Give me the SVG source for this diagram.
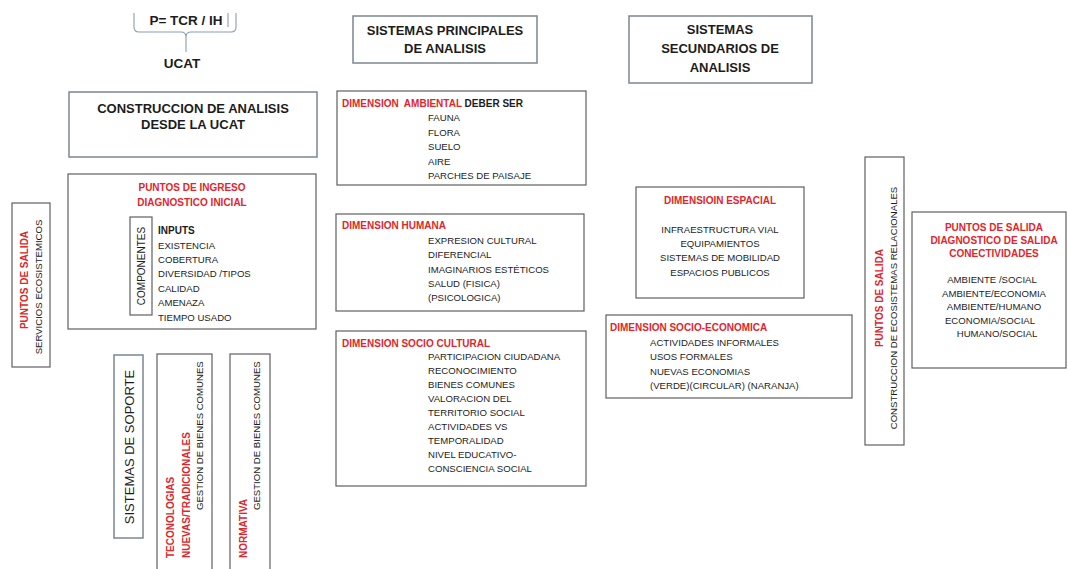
<svg xmlns="http://www.w3.org/2000/svg" width="1067" height="569" viewBox="0 0 1067 569">
<style>
.box{fill:#fff;stroke:#5f5f5f;stroke-width:1.2}
.tbox{fill:#fff;stroke:#7b8793;stroke-width:1.5}
text{font-family:"Liberation Sans",Arial,sans-serif;fill:#1c1c1c}
.big{font-size:13px;font-weight:bold}
.hd{font-size:10px;font-weight:bold}
.red{fill:#e0262b}
.it{font-size:9.6px}
.mid{text-anchor:middle}
</style>
<rect width="1067" height="569" fill="#fff"/>
<g id="formula">
<path d="M134,13 L134,27 Q134,32 139,32 L181,32 Q186,32 186,37 L186,52 M186,37 Q186,32 191,32 L231,32 Q236,32 236,27 L236,13" fill="none" stroke="#8a9db1" stroke-width="1.1"/>
<line x1="228" y1="13" x2="228" y2="27" stroke="#8a9db1" stroke-width="1.1"/>
<text x="186" y="25" class="mid" style="font-size:13.5px;font-weight:bold">P= TCR / IH</text>
<text x="182" y="68" class="mid" style="font-size:13.5px;font-weight:bold">UCAT</text>
</g>
<g id="construccion">
<rect class="tbox" x="69" y="92" width="248" height="65"/>
<text x="193" y="113" class="big mid">CONSTRUCCION DE ANALISIS</text>
<text x="193" y="129" class="big mid">DESDE LA UCAT</text>
</g>
<g id="principales">
<rect class="tbox" x="353" y="16" width="184" height="47"/>
<text x="445" y="35" class="big mid">SISTEMAS PRINCIPALES</text>
<text x="445" y="53" class="big mid">DE ANALISIS</text>
</g>
<g id="secundarios">
<rect class="tbox" x="629" y="16" width="183" height="67"/>
<text x="720" y="34" class="big mid">SISTEMAS</text>
<text x="720" y="53" class="big mid">SECUNDARIOS DE</text>
<text x="720" y="72" class="big mid">ANALISIS</text>
</g>
<g id="ambiental">
<rect class="box" x="337" y="91" width="249" height="94"/>
<text x="342" y="107" class="hd" xml:space="preserve"><tspan class="red">DIMENSION  AMBIENTAL</tspan> DEBER SER</text>
<text class="it" x="428" y="121">FAUNA</text>
<text class="it" x="428" y="135.5">FLORA</text>
<text class="it" x="428" y="150">SUELO</text>
<text class="it" x="428" y="164.5">AIRE</text>
<text class="it" x="428" y="179">PARCHES DE PAISAJE</text>
</g>
<g id="humana">
<rect class="box" x="336" y="214" width="248" height="97"/>
<text x="342" y="229" class="hd red">DIMENSION HUMANA</text>
<text class="it" x="428" y="244">EXPRESION CULTURAL</text>
<text class="it" x="428" y="258">DIFERENCIAL</text>
<text class="it" x="428" y="272.5">IMAGINARIOS ESTÉTICOS</text>
<text class="it" x="428" y="287">SALUD (FISICA)</text>
<text class="it" x="428" y="301">(PSICOLOGICA)</text>
</g>
<g id="sociocultural">
<rect class="box" x="336" y="331" width="250" height="155"/>
<text x="342" y="347" class="hd red">DIMENSION SOCIO CULTURAL</text>
<text class="it" x="428" y="360">PARTICIPACION CIUDADANA</text>
<text class="it" x="428" y="374">RECONOCIMIENTO</text>
<text class="it" x="428" y="388">BIENES COMUNES</text>
<text class="it" x="428" y="402">VALORACION DEL</text>
<text class="it" x="428" y="416">TERRITORIO SOCIAL</text>
<text class="it" x="428" y="430">ACTIVIDADES VS</text>
<text class="it" x="428" y="444">TEMPORALIDAD</text>
<text class="it" x="428" y="458">NIVEL EDUCATIVO-</text>
<text class="it" x="428" y="472">CONSCIENCIA SOCIAL</text>
</g>
<g id="espacial">
<rect class="box" x="636" y="187" width="168" height="111"/>
<text x="720" y="204" class="hd red mid">DIMENSIOIN ESPACIAL</text>
<text class="it mid" x="720" y="233">INFRAESTRUCTURA VIAL</text>
<text class="it mid" x="720" y="247">EQUIPAMIENTOS</text>
<text class="it mid" x="720" y="261">SISTEMAS DE MOBILIDAD</text>
<text class="it mid" x="720" y="276">ESPACIOS PUBLICOS</text>
</g>
<g id="socioeconomica">
<rect class="box" x="606" y="315" width="246" height="83"/>
<text x="610" y="331" class="hd red">DIMENSION SOCIO-ECONOMICA</text>
<text class="it" x="650" y="346">ACTIVIDADES INFORMALES</text>
<text class="it" x="650" y="360">USOS FORMALES</text>
<text class="it" x="650" y="375">NUEVAS ECONOMIAS</text>
<text class="it" x="650" y="389">(VERDE)(CIRCULAR) (NARANJA)</text>
</g>
<g id="salida-relacionales">
<rect class="box" x="865" y="157" width="39" height="288"/>
<text class="hd red mid" transform="translate(883,298) rotate(-90)">PUNTOS DE SALIDA</text>
<text class="it mid" transform="translate(897,308) rotate(-90)">CONSTRUCCION DE ECOSISTEMAS RELACIONALES</text>
</g>
<g id="salida-conectividades">
<rect class="box" x="912" y="212" width="154" height="156"/>
<text x="994" y="231" class="hd red mid">PUNTOS DE SALIDA</text>
<text x="994" y="244" class="hd red mid">DIAGNOSTICO DE SALIDA</text>
<text x="994" y="257" class="hd red mid">CONECTIVIDADES</text>
<text x="992" y="283" class="it mid">AMBIENTE /SOCIAL</text>
<text x="994" y="296.5" class="it mid">AMBIENTE/ECONOMIA</text>
<text x="994" y="310" class="it mid">AMBIENTE/HUMANO</text>
<text x="990" y="323.5" class="it mid">ECONOMIA/SOCIAL</text>
<text x="997" y="337" class="it mid">HUMANO/SOCIAL</text>
</g>
<g id="salida-servicios">
<rect class="box" x="12" y="203" width="38" height="164"/>
<text class="hd red mid" transform="translate(27.5,280) rotate(-90)">PUNTOS DE SALIDA</text>
<text class="it mid" transform="translate(41.5,287) rotate(-90)">SERVICIOS ECOSISTEMICOS</text>
</g>
<g id="ingreso">
<rect class="box" x="68" y="174" width="248" height="155"/>
<text x="192" y="191" class="hd red mid">PUNTOS DE INGRESO</text>
<text x="192" y="206" class="hd red mid">DIAGNOSTICO INICIAL</text>
<rect class="box" x="130" y="217" width="22" height="98"/>
<text class="mid" style="font-size:10px" transform="translate(145,266) rotate(-90)">COMPONENTES</text>
<text x="158" y="234" class="hd">INPUTS</text>
<text class="it" x="158" y="248.5">EXISTENCIA</text>
<text class="it" x="158" y="263">COBERTURA</text>
<text class="it" x="158" y="277">DIVERSIDAD /TIPOS</text>
<text class="it" x="158" y="291.5">CALIDAD</text>
<text class="it" x="158" y="306">AMENAZA</text>
<text class="it" x="158" y="320.5">TIEMPO USADO</text>
</g>
<g id="soporte">
<rect class="tbox" x="114" y="355" width="29" height="183"/>
<text class="mid" style="font-size:13px" transform="translate(133.5,447) rotate(-90)">SISTEMAS DE SOPORTE</text>
</g>
<g id="tecnologias">
<rect class="box" x="157" y="354" width="55" height="222"/>
<text class="hd red" transform="translate(174,558) rotate(-90)">TECONOLOGIAS</text>
<text class="hd red" transform="translate(189.5,558) rotate(-90)">NUEVAS/TRADICIONALES</text>
<text class="it" transform="translate(203,510) rotate(-90)">GESTION DE BIENES COMUNES</text>
</g>
<g id="normativa">
<rect class="box" x="230" y="354" width="40" height="222"/>
<text class="hd red" transform="translate(247,558) rotate(-90)">NORMATIVA</text>
<text class="it" transform="translate(260,510) rotate(-90)">GESTION DE BIENES COMUNES</text>
</g>
<g id="connectors"/>
</svg>
